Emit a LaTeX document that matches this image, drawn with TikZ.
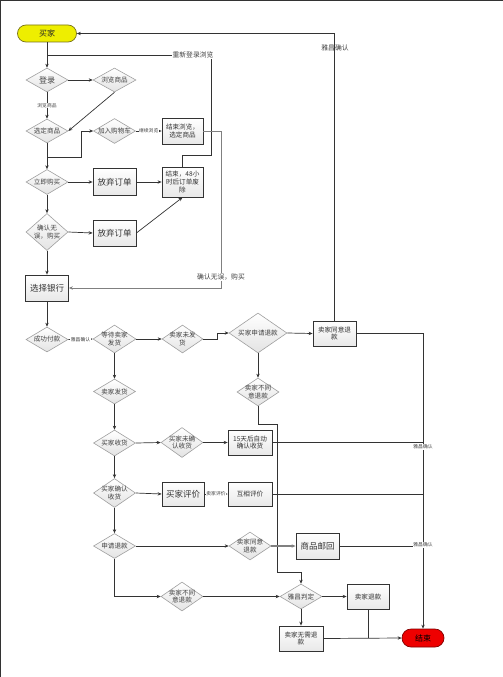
\documentclass[tikz,border=0pt]{standalone}
\usepackage{fontspec}
\setmainfont{Noto Sans CJK SC}
\newfontfamily\cjk{Noto Sans CJK SC}
\usetikzlibrary{shapes.geometric,arrows.meta}
\definecolor{tyellow}{HTML}{EEEE00}
\definecolor{tred}{HTML}{EE0000}
\newcommand\dfont{\cjk\fontsize{6.6}{7.8}\selectfont}
\newcommand\bfont{\cjk\fontsize{8.5}{10}\selectfont}
\newcommand\mkdia[6]{%
  \node[dia,minimum width=#4pt,minimum height=#5pt] (#1) at (#2,-#3) {};
  \node[dtxt] (#1-t) at (#1) {#6};}
\begin{document}
\begin{tikzpicture}[x=1pt,y=1pt,
  dia/.style={diamond,draw=gray!75,line width=0.6pt,top color=white,bottom color=gray!22,inner sep=0pt},
  dtxt/.style={font=\dfont,text=black!75,align=center,inner sep=0pt},
  box/.style={rectangle,draw=black!80,line width=0.8pt,top color=white,bottom color=gray!18,
    inner sep=1pt,minimum width=43pt,minimum height=25pt,align=center,font=\dfont,text=black!80},
  big/.style={font=\bfont},
  term/.style={rectangle,rounded corners=8.5pt,line width=0.7pt,inner sep=0pt,text=black!85,
    font=\cjk\fontsize{8}{9}\selectfont,minimum width=59pt,minimum height=17pt},
  ln/.style={draw=black!80,line width=0.7pt},
  arr/.style={ln,-{Stealth[length=4pt,width=3.4pt]}},
  lbls/.style={font=\cjk\fontsize{4.8}{5}\selectfont,fill=white,inner sep=0.5pt,text=black!75},
  lblm/.style={font=\cjk\fontsize{6.8}{7}\selectfont,fill=white,inner sep=0.8pt,text=black!75},
]
\useasboundingbox (0,0) rectangle (503,-677);
\draw[black!80,line width=1.4pt] (0.7,-677) -- (0.7,-0.7) -- (503,-0.7);

% nodes
\node[term,fill=tyellow,draw=olive!80!black] (buyer) at (47,-33.5) {买家};
\mkdia{login}{47}{80}{42}{24}{\cjk\fontsize{8}{9}\selectfont 登录}
\mkdia{browse}{114.5}{80}{43}{24}{浏览商品}
\mkdia{select}{47}{131}{42}{24}{选定商品}
\mkdia{cart}{114.5}{131}{42}{25}{加入购物车}
\node[box,minimum width=41pt,minimum height=26pt] (endbrowse) at (182.5,-131) {结束浏览，\\选定商品};
\mkdia{buynow}{47}{182}{42}{25}{立即购买}
\node[box,big,minimum height=27pt] (abandon1) at (114.5,-182) {放弃订单};
\node[box,minimum width=41pt,minimum height=30pt,inner sep=0pt] (end48) at (182.5,-182) {结束，48小\\时后订单废\\除};
\mkdia{confirm}{47}{232}{42}{37}{确认无\\误，购买}
\node[box,big,minimum height=26pt] (abandon2) at (114.5,-233) {放弃订单};
\node[box,big,minimum height=26pt] (bank) at (47,-288) {选择银行};
\mkdia{paid}{47}{339.5}{42}{25}{成功付款}
\mkdia{wait}{114.5}{339}{43}{28}{等待卖家\\发货}
\mkdia{nosend}{182.5}{339}{41}{28}{卖家未发\\货}
\mkdia{refund}{258}{333}{58}{40}{买家申请退款}
\node[box] (agree) at (334.5,-333.5) {卖家同意退\\款};
\mkdia{disagree1}{258}{392}{42}{28}{卖家不同\\意退款}
\mkdia{send}{114.5}{391.5}{42}{25}{卖家发货}
\mkdia{recv}{114.5}{443}{42}{26}{买家收货}
\mkdia{unconf}{182}{442.5}{42}{30}{买家未确\\认收货}
\node[box,minimum width=44pt] (auto15) at (250,-442.5) {15天后自动\\确认收货};
\mkdia{conf}{114.5}{493}{42}{29}{买家确认\\收货}
\node[box,big,minimum width=42pt,minimum height=24pt] (review) at (183,-494) {买家评价};
\node[box,minimum width=44pt,minimum height=24pt] (mutual) at (250,-494) {互相评价};
\mkdia{apply}{114.5}{546}{42}{25}{申请退款}
\mkdia{agree2}{250}{546}{42}{28}{卖家同意\\退款}
\node[box,big,minimum height=26pt] (mail) at (317.5,-546) {商品邮回};
\mkdia{disagree2}{182}{596.5}{42}{29}{卖家不同\\意退款}
\mkdia{judge}{301}{596.5}{42}{25}{雅昌判定}
\node[box,minimum width=42pt] (sellerrefund) at (368,-596.5) {卖家退款};
\node[box,minimum width=44pt] (noneed) at (301,-638.5) {卖家无需退\\款};
\node[term,fill=tred,draw=red!50!black,text=black,minimum width=42pt,minimum height=18pt,rounded corners=9pt] (end) at (423,-638) {结束};

% helper coordinates
\coordinate (c1) at (211,-155);
\coordinate (c2) at (47,-55);
\coordinate (c3) at (221,-288);
\coordinate (c4) at (277,-424);
\coordinate (c5) at (301,-572);

% connectors
\draw[arr] (buyer) -- (login);
\draw[ln] (end48.north) |- (c1) |- (c2);
\node[lblm] (lre) at (193,-55) {重新登录浏览};
\draw[arr] (login.east) -- (browse.west);
\draw[arr] (login.south) -- node[lbls] (lbr) {浏览商品} (select.north);
\draw[arr] (browse.south) -- (select.east);
\draw[arr] (select.south) -- (buynow.north);
\coordinate (j1) at (47,-157);
\draw[arr] (j1) -| ([xshift=-12pt]cart.west) -- (cart.west);
\draw[arr] (cart.east) -- node[lbls] (lcont) {继续浏览} (endbrowse.west);
\draw[arr,draw=gray] (endbrowse.east) -| (c3) -- (bank.east);
\node[lblm] (lok) at (221,-277) {确认无误，购买};
\draw[arr] (buynow.east) -- (abandon1.west);
\draw[arr] (abandon1.east) -- (end48.west);
\draw[arr] (buynow.south) -- (confirm.north);
\draw[arr] (confirm.east) -- (abandon2.west);
\draw[arr] (abandon2.east) -- (end48.south);
\draw[arr] (confirm.south) -- (bank.north);
\draw[arr] (bank.south) -- (paid.north);
\draw[arr] (paid.east) -- node[lbls] (lya1) {雅昌确认} (wait.west);
\draw[arr] (wait.east) -- (nosend.west);
\draw[arr] (nosend.east) -- ++(14.5,0) |- (refund.west);
\draw[arr] (refund.east) -- (agree.west);
\draw[arr] (agree.north) |- (buyer.east);
\node[font=\cjk\fontsize{6.8}{7}\selectfont,text=black!75,inner sep=0pt] (lya0) at (335,-48) {雅昌确认};
\draw[arr] (agree.east) -| (end.north);
\draw[arr] (refund.south) -- (disagree1.north);
\draw[arr] (disagree1.south) |- (c4) |- (c5) -- (judge.north);
\draw[arr] (wait.south) -- (send.north);
\draw[arr] (send.south) -- (recv.north);
\draw[arr] (recv.east) -- (unconf.west);
\draw[arr] (unconf.east) -- (auto15.west);
\draw[ln] (auto15.east) -- (auto15.east -| end.north);
\node[lbls] (lya2) at (423,-447) {雅昌确认};
\draw[arr] (recv.south) -- (conf.north);
\draw[arr] (conf.east) -- (review.west);
\draw[arr] (review.east) -- node[lbls] (lsr) {卖家评价} (mutual.west);
\draw[ln] (mutual.east) -- (mutual.east -| end.north);
\draw[arr] (conf.south) -- (apply.north);
\draw[arr] (apply.east) -- (agree2.west);
\draw[arr,draw=gray,line width=1.1pt] (agree2.east) -- (mail.west);
\draw[ln] (mail.east) -- (mail.east -| end.north);
\node[lbls] (lya3) at (423,-545) {雅昌确认};
\draw[arr] (apply.south) |- (disagree2.west);
\draw[arr] (disagree2.east) -- (judge.west);
\draw[arr] (judge.east) -- (sellerrefund.west);
\draw[arr] (judge.south) -- (noneed.north);
\draw[arr] (noneed.east) -- (end.west);
\draw[ln] (sellerrefund.south) -- (sellerrefund.south |- end.west);
\end{tikzpicture}
\end{document}
